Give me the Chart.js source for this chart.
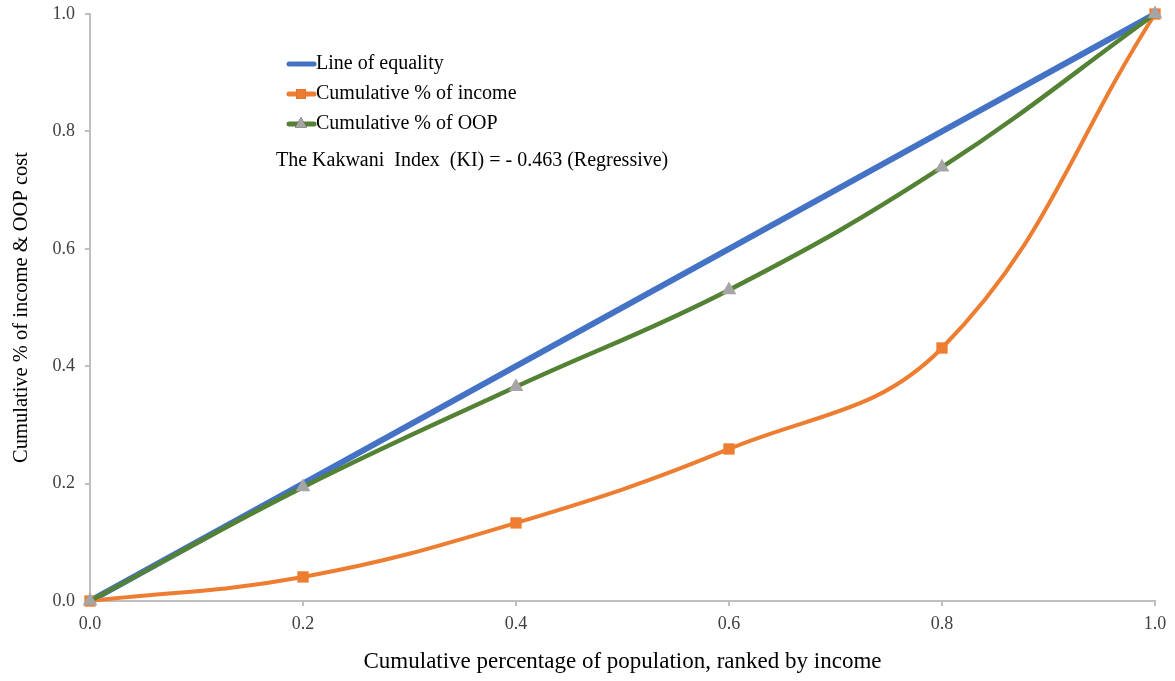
<!DOCTYPE html>
<html>
<head>
<meta charset="utf-8">
<script src="https://cdn.jsdelivr.net/npm/chart.js@4/dist/chart.umd.min.js"></script>
<style>
  html, body { margin: 0; padding: 0; background: #fff; }
  #wrap { width: 1175px; height: 681px; }
</style>
</head>
<body>
<div id="wrap"><canvas id="lorenz"></canvas></div>
<script>
// --- DATA ---
const popShare = [0, 0.2, 0.4, 0.6, 0.8, 1.0];
const equality = [0, 0.2, 0.4, 0.6, 0.8, 1.0];
const incomeShare = [0, 0.041, 0.133, 0.259, 0.431, 1.0];
const oopShare = [0, 0.194, 0.365, 0.53, 0.739, 1.0];
const seriesNames = ["Line of equality", "Cumulative % of income", "Cumulative % of OOP"];
const noteText = "The Kakwani  Index  (KI) = - 0.463 (Regressive)";

// --- COLORS ---
const COLORS = {
    blue: "#4472C4",
    orange: "#ED7D31",
    green: "#548235",
    gray: "#A5A5A5",
    axis: "#BFBFBF",
    text: "#404040"
};

const SERIF = "'Liberation Serif', 'Times New Roman', serif";

const toPoints = (ys) => popShare.map((x, i) => ({ x: x, y: ys[i] }));

// legend drawn inside the plot, like the original
const insideLegend = {
    id: "insideLegend",
    afterDraw(chart) {
        const ctx = chart.ctx;
        const rows = [64, 94, 124];
        ctx.save();
        chart.data.datasets.forEach((ds, i) => {
            const y = rows[i];
            ctx.strokeStyle = ds.borderColor;
            ctx.lineWidth = 5;
            ctx.lineCap = "round";
            ctx.beginPath();
            ctx.moveTo(289, y);
            ctx.lineTo(314, y);
            ctx.stroke();
            if (ds.pointRadius > 0) {
                Chart.helpers.drawPoint(ctx, {
                    pointStyle: ds.pointStyle,
                    radius: 7,
                    borderWidth: 0
                }, 301, y);
                ctx.fillStyle = ds.pointBackgroundColor;
                ctx.fill();
            }
            ctx.fillStyle = "#000";
            ctx.font = "20px " + SERIF;
            ctx.textBaseline = "middle";
            ctx.textAlign = "left";
            ctx.fillText(ds.label, 316, y);
        });
        ctx.font = "20px " + SERIF;
        ctx.fillStyle = "#000";
        ctx.textBaseline = "middle";
        ctx.fillText(noteText, 276, 161);
        ctx.restore();
    }
};

const ctx = document.getElementById("lorenz").getContext("2d");
new Chart(ctx, {
    type: "line",
    data: {
        datasets: [{
            label: seriesNames[0],
            data: toPoints(equality),
            borderColor: COLORS.blue,
            borderWidth: 6,
            pointRadius: 0,
            tension: 0,
            clip: false,
            order: 2
        }, {
            label: seriesNames[1],
            data: toPoints(incomeShare),
            borderColor: COLORS.orange,
            backgroundColor: COLORS.orange,
            pointBackgroundColor: COLORS.orange,
            pointBorderWidth: 0,
            pointStyle: "rect",
            pointRadius: 8,
            borderWidth: 4,
            tension: 0.4,
            clip: false,
            order: 1
        }, {
            label: seriesNames[2],
            data: toPoints(oopShare),
            borderColor: COLORS.green,
            backgroundColor: COLORS.gray,
            pointBackgroundColor: COLORS.gray,
            pointBorderWidth: 0,
            pointStyle: "triangle",
            pointRadius: 8.5,
            borderWidth: 4.5,
            tension: 0.4,
            clip: false,
            order: 0
        }]
    },
    options: {
        responsive: true,
        maintainAspectRatio: false,
        animation: false,
        layout: { padding: { top: 14, right: 20, left: 0, bottom: 0 } },
        plugins: {
            legend: { display: false },
            tooltip: { enabled: false }
        },
        scales: {
            x: {
                type: "linear",
                min: 0,
                max: 1,
                afterFit: (s) => { s.height = 80; },
                border: { color: COLORS.axis, width: 2 },
                grid: { drawOnChartArea: false, drawTicks: true, tickLength: 5, color: COLORS.axis, lineWidth: 2 },
                ticks: {
                    stepSize: 0.2,
                    padding: 7,
                    maxRotation: 0,
                    color: COLORS.text,
                    font: { family: SERIF, size: 18 },
                    callback: (v) => Number(v).toFixed(1)
                },
                title: {
                    display: true,
                    text: "Cumulative percentage of population, ranked by income",
                    color: "#000",
                    font: { family: SERIF, size: 23 },
                    padding: { top: 5, bottom: 5 }
                }
            },
            y: {
                type: "linear",
                min: 0,
                max: 1,
                afterFit: (s) => {
                    s.width = 90;
                    s.paddingTop = 0;
                    s.paddingBottom = 0;
                },
                border: { color: COLORS.axis, width: 2 },
                grid: { drawOnChartArea: false, drawTicks: true, tickLength: 5, color: COLORS.axis, lineWidth: 2 },
                ticks: {
                    stepSize: 0.2,
                    padding: 10,
                    color: COLORS.text,
                    font: { family: SERIF, size: 18 },
                    callback: (v) => Number(v).toFixed(1)
                },
                title: {
                    display: true,
                    text: "Cumulative % of income & OOP cost",
                    color: "#000",
                    font: { family: SERIF, size: 20.5 },
                    padding: { top: 9, bottom: 9 }
                }
            }
        }
    },
    plugins: [insideLegend]
});
</script>
</body>
</html>
